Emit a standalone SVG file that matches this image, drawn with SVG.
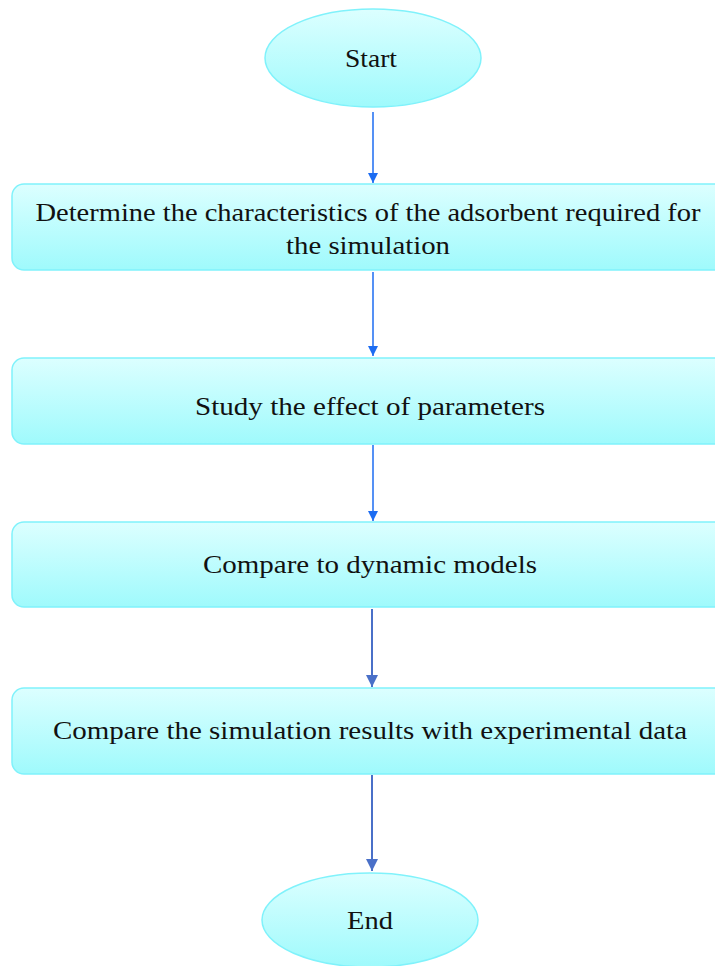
<svg xmlns="http://www.w3.org/2000/svg" width="715" height="966" viewBox="0 0 715 966">
<defs>
<linearGradient id="g" x1="0" y1="0" x2="0" y2="1">
<stop offset="0" stop-color="#dcffff"/>
<stop offset="1" stop-color="#9ffafc"/>
</linearGradient>
<marker id="a1" viewBox="0 0 10 10" refX="10" refY="5" markerWidth="10" markerHeight="12" markerUnits="userSpaceOnUse" orient="auto">
<path d="M0,0 L10,5 L0,10 z" fill="#1c6cf2"/>
</marker>
<marker id="a2" viewBox="0 0 10 10" refX="10" refY="5" markerWidth="12" markerHeight="14" markerUnits="userSpaceOnUse" orient="auto">
<path d="M0,0 L10,5 L0,10 z" fill="#4a70c8"/>
</marker>
</defs>
<style>
.n{fill:url(#g);stroke:#80f2fb;stroke-width:1.5}
text{font-family:'Liberation Serif','DejaVu Serif',serif;font-size:26px;fill:#111;text-anchor:middle}
.c1{stroke:#1c6cf2;stroke-width:1.5;fill:none;marker-end:url(#a1)}
.c2{stroke:#4a70c8;stroke-width:2;fill:none;marker-end:url(#a2)}
</style>
<rect width="715" height="966" fill="#fff"/>
<g id="connectors">
<line class="c1" x1="373" y1="112" x2="373" y2="183"/>
<line class="c1" x1="373" y1="272" x2="373" y2="356"/>
<line class="c1" x1="373" y1="445" x2="373" y2="521"/>
<line class="c2" x1="372" y1="609" x2="372" y2="687"/>
<line class="c2" x1="372" y1="775" x2="372" y2="871"/>
</g>
<g id="start">
<ellipse class="n" cx="373" cy="58" rx="108" ry="49"/>
<text x="371" y="67" textLength="52" lengthAdjust="spacingAndGlyphs">Start</text>
</g>
<g id="step1">
<rect class="n" x="12" y="184" width="716" height="86" rx="12"/>
<text x="368" y="221" textLength="665" lengthAdjust="spacingAndGlyphs">Determine the characteristics of the adsorbent required for</text>
<text x="368" y="254" textLength="164" lengthAdjust="spacingAndGlyphs">the simulation</text>
</g>
<g id="step2">
<rect class="n" x="12" y="358" width="716" height="86" rx="12"/>
<text x="370" y="415" textLength="350" lengthAdjust="spacingAndGlyphs">Study the effect of parameters</text>
</g>
<g id="step3">
<rect class="n" x="12" y="522" width="716" height="85" rx="12"/>
<text x="370" y="573" textLength="334" lengthAdjust="spacingAndGlyphs">Compare to dynamic models</text>
</g>
<g id="step4">
<rect class="n" x="12" y="688" width="716" height="86" rx="12"/>
<text x="370" y="739" textLength="634" lengthAdjust="spacingAndGlyphs">Compare the simulation results with experimental data</text>
</g>
<g id="end">
<ellipse class="n" cx="370" cy="920" rx="108" ry="47"/>
<text x="370" y="929" textLength="46" lengthAdjust="spacingAndGlyphs">End</text>
</g>
</svg>
